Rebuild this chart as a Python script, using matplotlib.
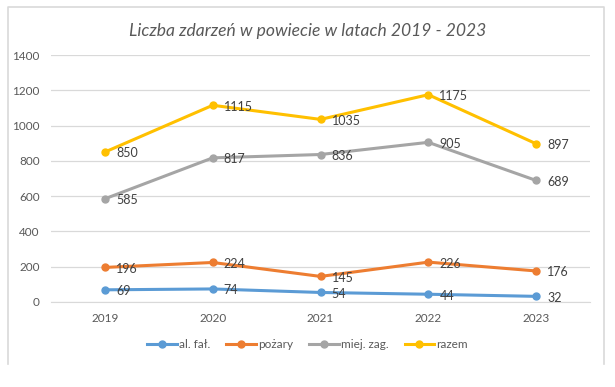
import matplotlib.pyplot as plt
from matplotlib.lines import Line2D

years = ["2019", "2020", "2021", "2022", "2023"]
al_fal = [69, 74, 54, 44, 32]
pozary = [196, 224, 145, 226, 176]
miej_zag = [585, 817, 836, 905, 689]
razem = [850, 1115, 1035, 1175, 897]
series_names = ["al. fał.", "pożary", "miej. zag.", "razem"]
yticks = [0, 200, 400, 600, 800, 1000, 1200, 1400]

colors = ["#5B9BD5", "#ED7D31", "#A5A5A5", "#FFC000"]
font = "Lato"
txt = "#595959"

W, H = 615, 387
fig = plt.figure(figsize=(W / 100, H / 100), dpi=100)
fig.patch.set_facecolor("white")

# outer chart frame (left, top, right)
fx0, fx1, fy0, fy1 = 7.5 / W, 603.5 / W, 1 - 364 / H, 1 - 6.5 / H
fig.add_artist(Line2D([fx0, fx0, fx1, fx1], [fy0, fy1, fy1, fy0],
                      transform=fig.transFigure, color="#D9D9D9", linewidth=1.2))

ax = fig.add_axes([51 / W, (H - 302) / H, (590 - 51) / W, (302 - 55) / H])
x = list(range(len(years)))
all_series = [al_fal, pozary, miej_zag, razem]
for vals, c, name in zip(all_series, colors, series_names):
    ax.plot(x, vals, color=c, linewidth=2.2, marker="o", markersize=5, label=name,
            solid_capstyle="round")
    for xi, v in zip(x, vals):
        ax.annotate(str(v), (xi, v), xytext=(8, -1), textcoords="offset points",
                    ha="left", va="center", fontsize=9, color="#404040", family=font)

ax.set_xlim(-0.5, 4.5)
ax.set_ylim(0, 1400)
ax.set_yticks(yticks)
ax.set_xticks(x)
ax.set_xticklabels(years)
ax.grid(axis="y", color="#D9D9D9", linewidth=0.9)
ax.set_axisbelow(True)
for s in ["left", "right", "top"]:
    ax.spines[s].set_visible(False)
ax.spines["bottom"].set_color("#D9D9D9")
ax.tick_params(axis="both", length=0, labelsize=8.5, labelcolor=txt, pad=8)
for lab in ax.get_xticklabels() + ax.get_yticklabels():
    lab.set_family(font)
ax.tick_params(axis="y", pad=8)

fig.text(0.5, 1 - 31 / H, "Liczba zdarzeń w powiecie w latach 2019 - 2023",
         ha="center", va="center", fontsize=12.6, style="italic", color=txt, family=font)

handles = [Line2D([0], [0], color=c, linewidth=2.2, marker="o", markersize=5)
           for c in colors]
fig.legend(handles, series_names, loc="center", bbox_to_anchor=(0.5, 1 - 345 / H),
           ncol=4, frameon=False, prop={"family": font, "size": 8.5},
           labelcolor=txt, handlelength=2.5, handletextpad=0.15, columnspacing=1.4)

fig.savefig("out.png", dpi=100, facecolor="white")
